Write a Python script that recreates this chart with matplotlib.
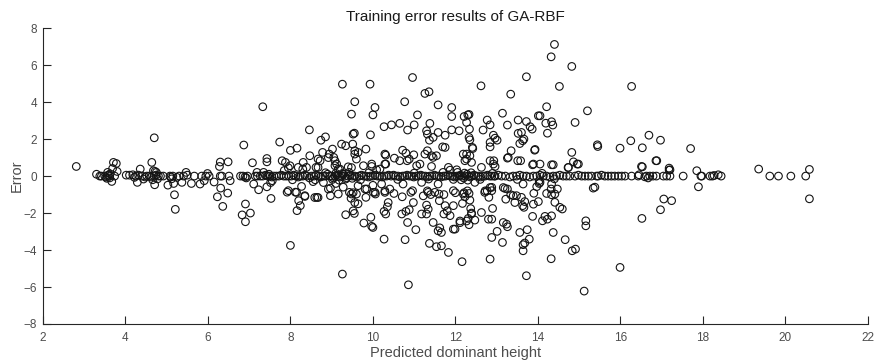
import numpy as np
import matplotlib
matplotlib.use("Agg")
import matplotlib.pyplot as plt

# points lying on / very near the zero line (predicted height, error)
band_pts = [
    (3.30, 0.10), (3.38, 0.0), (3.42, 0.0), (3.50, 0.0), (3.53, -0.05), (3.58, 0.05), (3.62, 0.0),
    (3.74, 0.0), (4.02, 0.05), (4.10, 0.05), (4.18, 0.07), (4.25, 0.0), (4.32, 0.05), (4.40, 0.0),
    (4.48, -0.05), (4.52, 0.0), (4.58, 0.0), (4.62, -0.05), (4.70, 0.0), (4.74, 0.05), (4.80, 0.0),
    (4.85, 0.0), (4.92, 0.0), (5.08, 0.0), (5.10, -0.05), (5.15, 0.0), (5.30, 0.0), (5.41, 0.0),
    (5.50, 0.05), (5.67, 0.0), (5.85, 0.0), (5.95, 0.0), (6.03, 0.0), (6.30, 0.0), (6.34, 0.0),
    (6.51, 0.0), (6.79, 0.0), (6.85, 0.0), (6.90, -0.05), (6.96, 0.0), (7.15, 0.0), (7.20, 0.0),
    (7.27, 0.0), (7.33, 0.0), (7.40, 0.05), (7.45, 0.0), (7.50, 0.0), (7.55, -0.05), (7.60, 0.0),
    (7.66, 0.0), (7.72, 0.0), (7.78, 0.05), (7.84, 0.0), (7.90, 0.0), (7.96, 0.0),
    (8.02, 0.0), (8.08, 0.05), (8.13, 0.0), (8.19, -0.05), (8.24, 0.0), (8.30, 0.0), (8.35, 0.05),
    (8.40, 0.0), (8.46, -0.1), (8.51, 0.0), (8.57, 0.0), (8.62, 0.05), (8.68, 0.0), (8.73, -0.05),
    (8.79, 0.0), (8.84, 0.0), (8.90, 0.1), (8.95, 0.0), (9.00, 0.0), (9.04, -0.1), (9.08, 0.0),
    (9.12, 0.05), (9.16, 0.0), (9.20, -0.05), (9.24, 0.0), (9.28, 0.1), (9.32, 0.0), (9.36, -0.1),
    (9.40, 0.0), (9.45, 0.05), (9.50, 0.0), (9.56, 0.0), (9.61, -0.05), (9.67, 0.0), (9.72, 0.05),
    (9.78, 0.0), (9.83, 0.0), (9.89, -0.05), (9.94, 0.0), (10.00, 0.0), (10.05, 0.05), (10.11, 0.0),
    (10.16, 0.0), (10.22, -0.05), (10.27, 0.0), (10.33, 0.0), (10.38, 0.05),
    (9.02, -0.18), (9.10, 0.15), (9.18, -0.22), (9.26, 0.14), (9.34, -0.16), (9.42, 0.2), (9.50, -0.12),
    (8.60, -0.2), (8.85, 0.18), (9.70, -0.2), (9.90, 0.18),
    (10.44, 0.0), (10.50, 0.05), (10.55, 0.0), (10.61, 0.0), (10.66, -0.05), (10.72, 0.0), (10.77, 0.0),
    (10.83, 0.05), (10.88, 0.0), (10.94, 0.0), (10.99, -0.05), (11.05, 0.0), (11.10, 0.0), (11.16, 0.05),
    (11.21, 0.0), (11.27, 0.0), (11.32, -0.05), (11.38, 0.0), (11.43, 0.0), (11.49, 0.05), (11.54, 0.0),
    (11.60, 0.0), (11.65, -0.05), (11.71, 0.0), (11.76, 0.0), (11.82, 0.05), (11.87, 0.0), (11.93, 0.0),
    (11.98, -0.05), (12.03, 0.0), (12.08, 0.0), (12.12, 0.05), (12.16, 0.0), (12.20, -0.1), (12.24, 0.0),
    (12.28, 0.1), (12.32, 0.0), (12.36, -0.05), (12.40, 0.0), (12.45, 0.05), (12.50, 0.0), (12.56, 0.0),
    (12.61, -0.05), (12.67, 0.0), (12.72, 0.0), (12.78, 0.05), (12.83, 0.0), (12.88, 0.0), (12.94, 0.0),
    (11.95, -0.18), (12.05, 0.2), (12.14, -0.2), (12.22, 0.16), (12.30, -0.22), (12.38, 0.18),
    (10.60, -0.18), (11.00, 0.16), (11.35, -0.16), (11.70, 0.2), (12.60, -0.18), (12.90, 0.15),
    (12.96, 0.0), (13.04, 0.05), (13.12, 0.0), (13.21, 0.0), (13.32, -0.05), (13.40, 0.0), (13.48, 0.0),
    (13.56, 0.05), (13.64, 0.0), (13.72, 0.0), (13.80, -0.05), (13.89, 0.0), (13.97, 0.0), (14.05, 0.05),
    (14.13, 0.0), (14.21, 0.0), (14.29, -0.05), (14.37, 0.0), (14.45, 0.0), (14.53, 0.05), (14.61, 0.0),
    (14.69, 0.0), (14.77, 0.0), (14.90, 0.0), (14.98, 0.05), (15.06, 0.0), (15.14, 0.0), (15.22, 0.0),
    (15.30, 0.0), (15.42, 0.0), (13.50, -0.18), (14.10, 0.15), (14.40, -0.15),
    (15.46, 0.0), (15.54, 0.05), (15.62, 0.0), (15.70, 0.0), (15.78, 0.0), (15.86, 0.0), (15.95, 0.0),
    (16.03, 0.0), (16.11, 0.0), (16.27, 0.0), (16.43, 0.0), (16.45, 0.07), (16.59, -0.04), (16.63, 0.0),
    (16.67, -0.1), (16.71, 0.0), (16.79, 0.0), (16.87, 0.0), (17.04, 0.0), (17.12, 0.0), (17.20, 0.0),
    (17.52, 0.0), (17.97, 0.0), (18.17, 0.0), (18.23, 0.0), (18.27, 0.03), (18.37, 0.07), (18.44, 0.0),
    (19.62, 0.0), (19.83, 0.0), (20.13, 0.0), (20.49, 0.0),
]

# scattered points, height < 8.3
low_pts = [
    (2.81, 0.52), (3.57, 0.20), (3.62, -0.10), (3.63, 0.12), (3.67, -0.29), (3.69, 0.41), (3.71, 0.74),
    (3.78, 0.68), (3.80, 0.25), (3.55, -0.12), (4.22, -0.07), (4.29, -0.34), (4.36, 0.38), (4.44, -0.16),
    (4.64, 0.74), (4.70, 2.07), (4.68, 0.29), (4.71, -0.47), (4.66, -0.20), (4.75, 0.20), (4.78, -0.15),
    (4.72, 0.25), (5.03, -0.49), (5.17, -0.40), (5.12, -0.15), (5.19, -1.01), (5.21, -1.80), (5.25, -0.07),
    (5.37, -0.34), (5.47, 0.20), (5.60, -0.40), (5.81, -0.43), (5.91, -0.25), (5.99, 0.14), (6.15, -0.32),
    (6.23, -1.12), (6.28, 0.52), (6.30, 0.76), (6.31, -0.65), (6.36, -1.64), (6.49, 0.77), (6.48, -0.92),
    (6.54, -0.25), (6.83, -2.10), (6.87, 1.68), (6.91, -1.51), (6.91, -2.47), (6.93, -0.10), (7.03, -2.00),
    (7.08, 0.72), (7.11, -0.43), (7.19, 0.20), (7.23, -0.74), (7.33, 3.75), (7.35, 0.20), (7.43, 0.95),
    (7.43, 0.77), (7.43, -0.58), (7.48, 0.10), (7.52, -0.35), (7.53, -1.21), (7.56, -0.25), (7.74, 1.84),
    (7.80, 0.83), (7.88, 0.74), (7.92, -0.87), (7.85, 0.30), (7.95, 0.45), (8.00, 1.39), (8.00, -3.75),
    (8.12, -0.87), (8.16, 1.51), (8.16, -1.87), (8.20, -1.33), (8.05, -0.20),
]

# scattered points, height 8.2 - 10.4
mid_pts = [
    (8.46, 2.50), (8.27, -0.56), (8.35, -1.10), (8.24, -1.60), (8.31, 0.74), (8.30, 0.38), (8.39, 0.47),
    (8.47, 1.10), (8.59, -1.16), (8.67, -1.16), (8.62, 0.47), (8.72, 0.83), (8.74, 1.94), (8.85, 2.12),
    (8.78, 1.28), (8.67, 0.92), (8.94, 1.19), (8.97, -0.65), (8.97, -1.06), (9.02, 1.46), (9.05, 1.01),
    (9.08, 0.83), (9.12, 0.65), (9.16, 0.38), (9.24, 1.73), (9.26, 4.97), (9.26, -5.30), (9.34, 1.64),
    (9.34, -2.09), (9.43, -0.88), (9.48, 3.35), (9.52, 2.27), (9.56, 4.02), (9.55, 2.32), (9.51, 1.73),
    (9.56, 1.37), (9.60, 0.92), (9.64, 1.28), (9.83, 1.46), (9.47, -1.20), (9.52, -0.90), (9.56, -1.43),
    (9.52, -1.88), (9.55, -2.02), (9.60, -0.97), (9.64, -1.50), (9.78, -2.54), (9.83, -1.15), (9.85, -0.70),
    (9.93, 4.97), (10.05, 3.71), (10.00, 3.31), (9.94, 2.23), (9.95, -2.23), (9.97, -2.72), (10.00, -2.78),
    (10.06, -0.97), (9.97, 0.52), (10.09, 0.34), (10.00, -0.50), (9.40, 0.50), (9.48, 0.46),
    (7.99, 0.56), (8.19, 0.47), (8.67, 0.47), (8.92, 1.00), (9.08, 0.56), (9.20, 0.38), (9.56, 1.19),
    (9.77, 0.56), (9.97, 0.65), (10.29, 1.19), (10.29, 0.65), (7.95, -0.79), (8.15, -0.88), (8.35, -1.06),
    (8.64, -1.15), (8.92, -0.70), (9.16, -0.97), (9.28, -0.60), (9.48, -0.97), (9.64, -0.52), (9.81, -0.70),
    (10.01, -0.88), (10.21, -0.43), (10.29, -0.88), (8.55, -0.30), (8.80, -0.35), (9.10, -0.40),
]

# scattered points, height 10.2 - 14
upper_pts = [
    (10.27, 2.67), (10.45, 2.77), (10.65, 2.85), (10.77, 4.02), (10.96, 5.33), (11.08, 3.31), (11.00, 2.77),
    (10.84, 2.49), (11.26, 4.47), (11.36, 4.56), (11.38, 2.85), (11.30, 2.45), (11.32, 2.27), (11.37, 1.94),
    (11.46, 2.09), (11.58, 3.85), (11.58, 2.36), (11.75, 2.21), (11.69, 1.58), (11.75, 1.55), (11.91, 3.71),
    (11.91, 3.22), (11.91, 2.50), (12.09, 2.45), (12.21, 3.22), (12.30, 3.31), (12.33, 3.33), (12.27, 2.90),
    (12.34, 2.54), (12.33, 2.09), (12.35, 1.96), (12.41, 1.55), (12.62, 4.88), (12.67, 2.49), (12.77, 3.03),
    (12.84, 2.77), (12.92, 2.21), (12.96, 2.05), (13.01, 1.94), (12.84, 1.82), (12.84, 1.58), (13.14, 3.40),
    (13.26, 2.76), (13.34, 4.43), (13.52, 3.03), (13.72, 5.37), (13.72, 2.95), (13.81, 2.67), (13.86, 2.54),
    (13.52, 2.31), (13.60, 2.36), (13.63, 1.91), (13.66, 2.00), (13.56, 1.76), (13.92, 1.40), (14.01, 3.26),
    (13.35, 1.37), (13.26, 0.97), (13.51, 0.83), (13.58, 0.83), (13.87, 0.61), (12.93, 0.83), (12.96, 0.52),
    (12.27, 0.92), (12.35, 1.10), (12.42, 1.49), (12.19, 1.19), (12.23, 0.83), (11.87, 0.32), (12.03, 0.34),
    (11.42, 1.10), (11.54, 1.10), (11.32, 1.37), (11.42, 0.52), (11.14, 0.65), (10.99, 1.15), (10.88, 0.92),
    (10.83, 0.83), (10.72, 1.40), (10.80, 1.24), (10.52, 0.97), (10.31, 1.13), (10.31, 0.65), (10.17, 0.38),
    (10.65, 0.83), (11.06, 0.56), (11.26, 1.19), (11.46, 1.01), (11.83, 0.47), (12.27, 1.19), (12.39, 0.74),
    (12.63, 0.47), (12.84, 0.83), (13.28, 1.01), (13.89, 0.65), (12.92, 0.65),
]

lower_pts = [
    (10.05, -0.88), (10.29, -0.80), (10.51, -0.94), (10.71, -1.12), (10.92, -0.88), (10.96, -0.79),
    (10.98, -1.43), (10.88, -1.82), (10.80, -1.91), (10.70, -2.05), (10.27, -1.91), (10.31, -2.05),
    (10.35, -1.66), (10.37, -1.43), (10.27, -3.41), (10.78, -3.44), (10.86, -5.88), (10.84, -2.51),
    (11.04, -2.90), (11.18, -2.05), (11.30, -2.05), (11.22, -1.07), (11.30, -1.57), (11.34, -1.79),
    (11.32, -0.80), (11.40, -1.00), (11.46, -2.51), (11.37, -3.64), (11.54, -3.82), (11.66, -3.77),
    (11.83, -4.13), (11.58, -2.96), (11.66, -3.05), (11.62, -2.80), (11.61, -1.33), (11.75, -1.60),
    (11.80, -1.88), (11.72, -2.05), (11.87, -2.14), (11.50, -0.88), (11.60, -0.97), (11.72, -1.00),
    (11.95, -0.79), (11.95, -1.60), (12.00, -0.90), (11.95, -2.87), (11.99, -2.87), (12.11, -2.43),
    (12.11, -2.52), (12.17, -1.48), (12.16, -4.63), (12.21, -0.90), (12.23, -1.12), (12.29, -0.80),
    (12.33, -0.94), (12.35, -1.30), (12.37, -1.76), (12.39, -2.00), (12.31, -2.29), (12.33, -2.63),
    (12.27, -2.43), (12.39, -2.05), (12.47, -2.38), (12.63, -1.97), (12.72, -0.80), (12.77, -0.80),
    (12.84, -0.62), (12.81, -1.15), (12.80, -2.33), (12.88, -2.33), (12.90, -1.75), (12.88, -3.32),
    (12.84, -4.49), (13.01, -2.99), (13.14, -3.59), (13.16, -2.51), (13.24, -2.60), (13.26, -2.74),
    (13.16, -0.62), (13.20, -0.67), (13.26, -0.70), (13.22, -1.25), (13.34, -1.01), (13.40, -1.06),
    (13.44, -1.43), (13.48, -1.06), (13.60, -1.15), (13.63, -1.60), (13.66, -1.69), (13.68, -1.38),
    (13.56, -3.05), (13.64, -3.71), (13.68, -3.62), (13.79, -3.41), (13.64, -4.04), (13.72, -5.39),
    (13.74, -2.90), (13.87, -2.18), (13.89, -1.52), (13.90, -0.93), (13.97, -0.57), (14.01, -1.38),
    (10.41, -0.70), (10.73, -0.43), (11.18, -0.34), (11.34, -0.88), (11.58, -0.43), (12.19, -0.97),
    (12.47, -0.34), (12.71, -0.88), (12.88, -0.61), (12.88, -0.79), (13.64, -0.43), (14.05, -0.34),
]

# scattered points, height > 14
high_pts = [
    (14.40, 7.12), (14.32, 6.45), (14.82, 5.93), (14.52, 4.85), (16.27, 4.85), (14.21, 3.75), (14.05, 3.26),
    (14.19, 2.86), (14.33, 2.94), (14.36, 2.76), (14.23, 2.32), (14.90, 2.90), (15.20, 3.53), (13.93, 1.44),
    (14.82, 1.28), (14.86, 0.77), (14.98, 0.65), (14.73, 0.46), (14.37, 0.61), (14.05, 0.65), (14.33, 0.61),
    (14.74, 0.47), (14.95, 0.65), (15.44, 1.69), (15.45, 1.60), (15.99, 1.51), (16.25, 1.91), (16.53, 1.53),
    (16.69, 2.21), (16.97, 1.94), (17.70, 1.49), (16.53, 0.50), (16.88, 0.83), (17.18, 0.43), (17.18, 0.32),
    (17.85, 0.29), (17.89, -0.58), (15.34, -0.65), (14.03, -0.25), (14.03, -0.40), (14.33, -0.43),
    (14.32, -0.70), (14.47, -0.70), (14.41, -0.97), (14.33, -1.01), (14.21, -0.94), (14.41, -1.42),
    (14.53, -1.69), (14.59, -1.78), (14.17, -2.18), (14.23, -2.33), (14.11, -2.42), (14.33, -2.15),
    (14.37, -3.05), (14.66, -3.44), (14.83, -4.04), (14.91, -3.95), (14.32, -4.47), (15.16, -2.42),
    (15.16, -2.69), (15.12, -6.22), (15.99, -4.94), (16.52, -2.29), (17.05, -1.24), (17.24, -1.33),
    (16.97, -1.82), (16.51, 0.52), (16.86, 0.83), (17.20, 0.34), (17.95, 0.0), (15.38, -0.60),
    (19.35, 0.38), (20.58, 0.36), (20.58, -1.23),
]

x_ticks = [2, 4, 6, 8, 10, 12, 14, 16, 18, 20, 22]
y_ticks = [-8, -6, -4, -2, 0, 2, 4, 6, 8]

plt.rcParams['font.family'] = ['Liberation Sans', 'DejaVu Sans']

all_pts = np.array(band_pts + low_pts + mid_pts + upper_pts + lower_pts + high_pts)

fig = plt.figure(figsize=(8.75, 3.61), dpi=100)
ax = fig.add_axes([0.049, 0.1025, 0.943, 0.8195])

ax.scatter(all_pts[:, 0], all_pts[:, 1], s=30, facecolors='none',
           edgecolors='#141414', linewidths=0.8)

ax.set_xlim(2, 22)
ax.set_ylim(-8, 8)
ax.set_xticks(x_ticks)
ax.set_yticks(y_ticks)
ax.spines['top'].set_visible(False)
ax.spines['right'].set_visible(False)
for sp in ('left', 'bottom'):
    ax.spines[sp].set_color('#262626')
    ax.spines[sp].set_linewidth(0.8)
ax.tick_params(direction='in', length=6, width=0.8, colors='#262626',
               labelcolor='#4d4d4d', labelsize=8.5)
ax.tick_params(axis='x', pad=5.5)
ax.tick_params(axis='y', pad=4)

ax.set_title('Training error results of GA-RBF', fontsize=11, color='#1a1a1a', pad=5)
ax.set_xlabel('Predicted dominant height', fontsize=10.5, color='#4d4d4d', labelpad=2)
ax.set_ylabel('Error', fontsize=10.5, color='#4d4d4d', labelpad=0)

fig.savefig('out.png', dpi=100)
